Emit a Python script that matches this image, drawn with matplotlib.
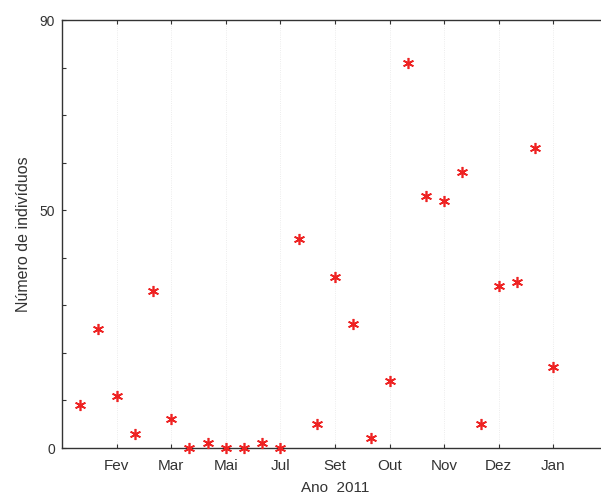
import matplotlib
matplotlib.use('Agg')
import matplotlib.pyplot as plt
import numpy as np

# amostras (indice) e numero de individuos
amostra = np.arange(1, 28)
individuos = [9, 25, 11, 3, 33, 6, 0, 1, 0, 0, 1, 0, 44, 5, 36, 26, 2, 14,
              81, 53, 52, 58, 5, 34, 35, 63, 17]

tick_pos = [3, 6, 9, 12, 15, 18, 21, 24, 27]
tick_lab = ['Fev', 'Mar', 'Mai', 'Jul', 'Set', 'Out', 'Nov', 'Dez', 'Jan']

plt.rcParams['font.family'] = ['Liberation Sans', 'DejaVu Sans']

fig = plt.figure(figsize=(6.01, 4.95), dpi=100)
ax = fig.add_axes([62/601, 47/495, 546/601, 428/495])

ax.plot(amostra, individuos, linestyle='none', marker=(6, 2, 0),
        markersize=8, markeredgewidth=1.2, color='#ee2222', clip_on=False,
        zorder=5)

ax.set_xlim(0, 30)
ax.set_ylim(0, 90)
ax.set_xticks(tick_pos)
ax.set_xticklabels(tick_lab)
ax.set_yticks(np.arange(0, 91, 10))
ax.set_yticklabels(['0', '', '', '', '', '50', '', '', '', '90'])
ax.tick_params(direction='in', top=True, right=True, length=3, width=0.8,
               colors='#333333', labelcolor='#333333')
ax.tick_params(axis='x', labelsize=11, pad=8)
ax.tick_params(axis='y', labelsize=10, pad=5)
ax.grid(axis='x', color='#e6e6e6', linewidth=0.6, linestyle=':')
for s in ax.spines.values():
    s.set_color('#333333')
    s.set_linewidth(1.0)

ax.set_xlabel('Ano  2011', fontsize=11, color='#333333', labelpad=6)
ax.set_ylabel('Número de indivíduos', fontsize=11.5, color='#333333', labelpad=6)

fig.savefig('out.png', dpi=100)
